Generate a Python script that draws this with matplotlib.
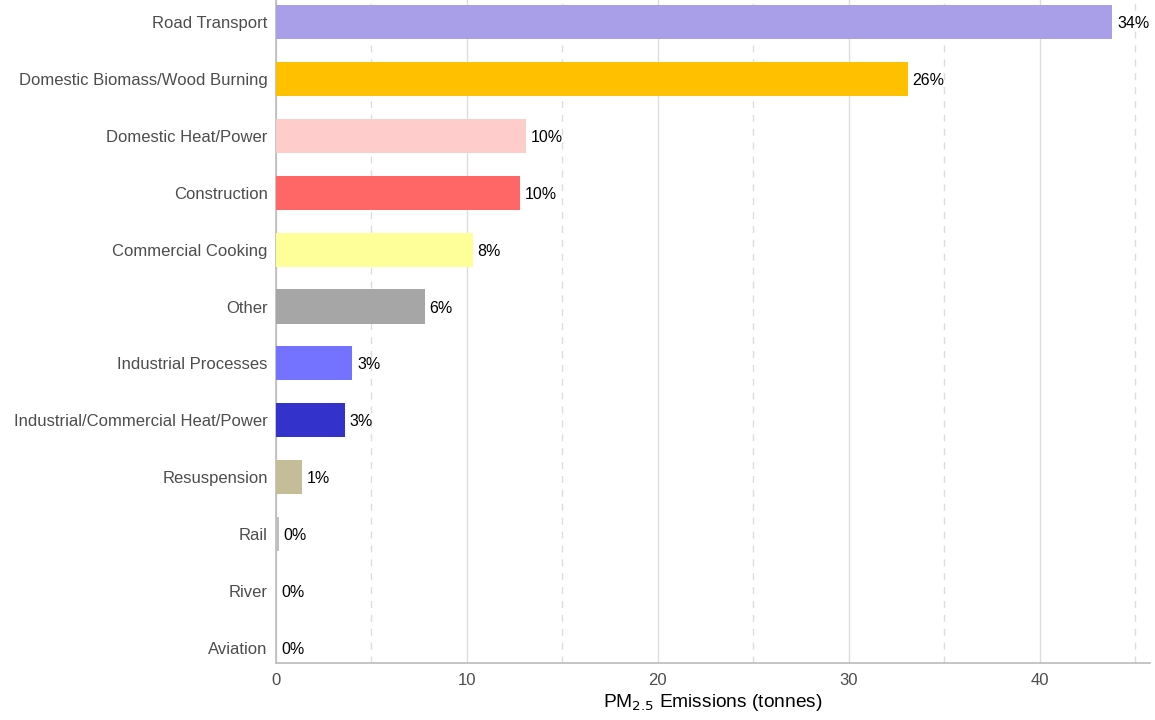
import matplotlib.pyplot as plt
from matplotlib.ticker import MultipleLocator

plt.rcParams['font.family'] = ['Liberation Sans', 'DejaVu Sans']

categories = ["Road Transport", "Domestic Biomass/Wood Burning", "Domestic Heat/Power",
              "Construction", "Commercial Cooking", "Other", "Industrial Processes",
              "Industrial/Commercial Heat/Power", "Resuspension", "Rail", "River", "Aviation"]
emissions = [43.8, 33.1, 13.1, 12.8, 10.3, 7.8, 4.0, 3.6, 1.35, 0.15, 0.02, 0.01]
pct_labels = ["34%", "26%", "10%", "10%", "8%", "6%", "3%", "3%", "1%", "0%", "0%", "0%"]
colors = ["#A99EE8", "#FFC000", "#FFCCCC", "#FF6666", "#FFFF99", "#A6A6A6",
          "#7373FF", "#3333CC", "#C4BD97", "#BFBFBF", "#9DC3E6", "#808080"]

fig = plt.figure(figsize=(11.55, 7.2), dpi=100)
ax = fig.add_axes([0.239, 0.079, 0.757, 0.921])

y = list(range(len(categories)))
ax.barh(y, emissions, height=0.6, color=colors, zorder=3)
for yi, v, lab in zip(y, emissions, pct_labels):
    ax.text(v + 0.25, yi, lab, va="center_baseline", ha="left", fontsize=11.5,
            color="black", zorder=4)

ax.set_yticks(y)
ax.set_yticklabels(categories)
ax.set_ylim(len(categories) - 1 + 0.27, -0.39)
ax.set_xlim(0, 45.8)

ax.xaxis.set_major_locator(MultipleLocator(10))
ax.xaxis.set_minor_locator(MultipleLocator(5))
ax.grid(axis="x", which="major", color="#DDDDDD", linewidth=1.0, zorder=0)
ax.grid(axis="x", which="minor", color="#DDDDDD", linewidth=1.0, linestyle=(0, (5, 5)), zorder=0)

for s in ["top", "right"]:
    ax.spines[s].set_visible(False)
for s in ["left", "bottom"]:
    ax.spines[s].set_color("#BBBBBB")
    ax.spines[s].set_linewidth(1.2)

ax.tick_params(axis="both", which="both", length=0, labelsize=12, labelcolor="#4D4D4D")
ax.tick_params(axis="y", pad=6)
ax.tick_params(axis="x", pad=7)
ax.set_xlabel("PM$_{2.5}$ Emissions (tonnes)", fontsize=13.8, color="black", labelpad=3)

fig.savefig("out.png", dpi=100)
